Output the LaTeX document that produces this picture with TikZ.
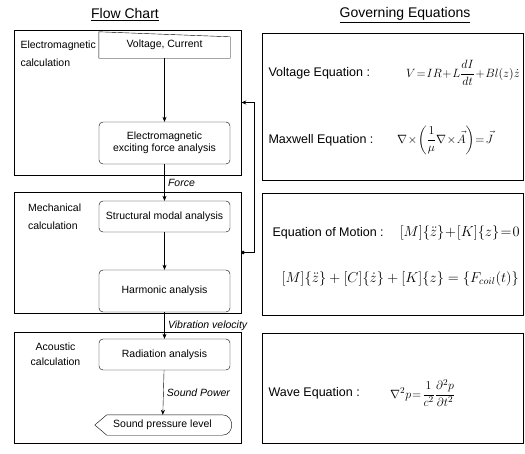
\documentclass[tikz,border=0pt]{standalone}
\usepackage{amsmath}
\usepackage{fontspec}
\setmainfont{Liberation Sans}
\usetikzlibrary{arrows.meta,positioning}

\newcommand{\tightmath}{\medmuskip=1mu\relax\thickmuskip=1.5mu\relax}

\begin{document}
\begin{tikzpicture}[
    x=1pt, y=-1pt,
    font=\fontsize{10.5}{12.5}\selectfont,
    group/.style={rectangle, draw, line width=0.6pt, minimum width=227pt},
    eqbox/.style={rectangle, draw, line width=0.6pt, minimum width=261pt},
    process/.style={rectangle, rounded corners=4pt, draw, thin, minimum width=131pt},
    grouplabel/.style={align=left, anchor=north west, font=\fontsize{10.5}{18}\selectfont},
    title/.style={font=\fontsize{14}{16}\selectfont},
    eqlabel/.style={anchor=west, font=\fontsize{12.5}{14}\selectfont},
    eqn/.style={inner sep=1pt, font=\fontsize{14}{16}\selectfont},
    tighteqn/.style={inner sep=1pt, font=\fontsize{12.5}{14}\selectfont\tightmath},
    flowlabel/.style={right, midway, font=\fontsize{10.5}{12}\selectfont\itshape},
    arrow/.style={-{Stealth[length=5pt,width=4pt]}, thin},
    feedback/.style={{Circle[length=3.5pt]}-{Stealth[length=5pt,width=4pt]}, line width=1pt}
]
\useasboundingbox (0,0) rectangle (525,453);

% Titles
\node[title] (flowtitle) at (125,15) {\underline{Flow Chart}};
\node[title] (govtitle) at (405,15) {\underline{Governing Equations}};

% Calculation groups
\node[group, minimum height=145pt] (emgrp) at (127.5,102.5) {};
\node[group, minimum height=121pt] (mechgrp) at (127.5,252.5) {};
\node[group, minimum height=111pt] (acgrp) at (127.5,387.5) {};

\node[grouplabel] (emlabel) at (17,37) {Electromagnetic\\calculation};
\node[grouplabel] (mechlabel) at (24.5,200) {Mechanical\\calculation};
\node[grouplabel, anchor=north, align=center, font=\fontsize{10.5}{15}\selectfont] (aclabel) at (55.5,339) {Acoustic\\calculation};

% Flow chart steps
\node[minimum width=131pt, minimum height=26pt] (vc) at (164.5,45) {Voltage, Current};
\draw (vc.south west) -- (vc.north west) -- ([yshift=-5pt]vc.north east) -- (vc.south east) -- cycle;
\node[process, minimum height=42pt, align=center] (emforce) at (164.5,143) {Electromagnetic\\exciting force analysis};
\node[process, minimum height=31pt] (modal) at (164.5,216.5) {Structural modal analysis};
\node[process, minimum height=42pt] (harmonic) at (164.5,291) {Harmonic analysis};
\node[process, minimum height=31pt] (radiation) at (164.5,354.5) {Radiation analysis};
\node[minimum width=135pt, minimum height=20pt] (spl) at (162.5,425) {Sound pressure level};
\draw (spl.west) -- ([xshift=12pt]spl.north west) -- ([xshift=-8pt]spl.north east)
    to[out=0, in=0, looseness=1.6] ([xshift=-8pt]spl.south east) -- ([xshift=12pt]spl.south west) -- cycle;

% Flow arrows
\draw[arrow] (vc) -- (emforce);
\draw[arrow] (emforce) -- node[flowlabel] {Force} (modal);
\draw[arrow] (modal) -- (harmonic);
\draw[arrow] (harmonic) -- node[flowlabel] {Vibration velocity} (radiation);
\draw[arrow] (radiation) -- node[flowlabel] {Sound Power} (spl);

% Coupling back to electromagnetic calculation
\draw[feedback] (mechgrp.east) -- ++(13,0) |- (emgrp.east);

% Governing equations
\node[eqbox, minimum height=147pt] (eqem) at (392.5,106.5) {};
\node[eqbox, minimum height=122pt] (eqmech) at (392.5,254) {};
\node[eqbox, minimum height=110pt] (eqac) at (392.5,388) {};

\node[eqlabel] (volt) at (265,73) {Voltage Equation :};
\node[eqlabel] (maxw) at (265,140) {Maxwell Equation :};
\node[eqlabel] (motion) at (269,233) {Equation of Motion :};
\node[eqlabel] (wave) at (265,393) {Wave Equation :};

\node[tighteqn, anchor=east] (volteq) at (521,73) {$V=IR+L\dfrac{dI}{dt}+Bl(z)\dot{z}$};
\node[tighteqn, anchor=west] (maxweq) at (396,140) {$\nabla\times\left(\dfrac{1}{\mu}\nabla\times\vec{A}\right)=\vec{J}$};
\node[eqn, anchor=east, font=\fontsize{14}{16}\selectfont\tightmath] (motioneq) at (521,233) {$[M]\{\ddot{z}\}+[K]\{z\}=0$};
\node[eqn, anchor=east] (forcedeq) at (520,279) {$[M]\{\ddot{z}\}+[C]\{\dot{z}\}+[K]\{z\}=\{F_{coil}(t)\}$};
\node[tighteqn, anchor=west] (waveeq) at (389,393) {$\nabla^2p=\dfrac{1}{c^2}\dfrac{\partial^2p}{\partial t^2}$};

\end{tikzpicture}
\end{document}
